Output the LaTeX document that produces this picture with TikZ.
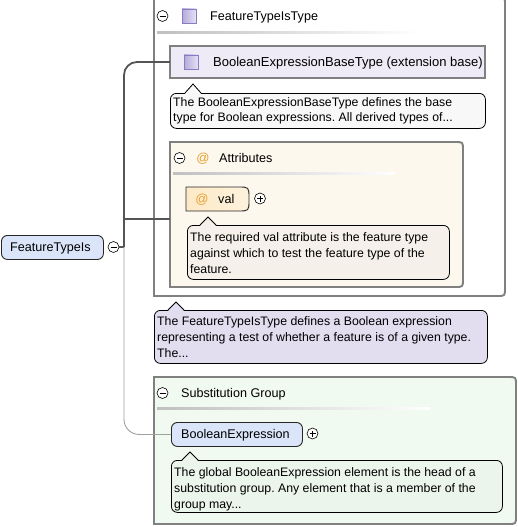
\documentclass[tikz,border=0pt]{standalone}
\usepackage{fontspec}
\setmainfont{Liberation Sans}
\frenchspacing
\definecolor{boxgray}{HTML}{808080}
\definecolor{conndark}{HTML}{555555}
\definecolor{connthin}{HTML}{A0A0A0}
\definecolor{basefill}{HTML}{EEEBF6}
\definecolor{sqdark}{HTML}{B4AADB}
\definecolor{sqlight}{HTML}{E6E1F4}
\definecolor{sqborder}{HTML}{8A7CC0}
\definecolor{docgray}{HTML}{F8F8F8}
\definecolor{attrfill}{HTML}{FDF8EE}
\definecolor{valfill}{HTML}{FDE9C6}
\definecolor{valdocfill}{HTML}{F5F1EA}
\definecolor{elemfill}{HTML}{DAE5F9}
\definecolor{ftdocfill}{HTML}{E2DEF0}
\definecolor{substfill}{HTML}{F1FAF0}
\definecolor{substdocfill}{HTML}{ECF5EC}
\definecolor{atorange}{HTML}{E8A030}
\newcommand\rrbox[6]{\draw[#1] (#2,#3) -- ({#4-#6},#3) .. controls (#4,#3) .. (#4,{#3+#6}) -- (#4,{#5-#6}) .. controls (#4,#5) .. ({#4-#6},#5) -- (#2,#5) -- cycle;}
\newcommand\docptr[5]{% fill, left, apex x, apex y, top
  \fill[#1] ({#3-8},{#5+0.8}) -- (#3,#4) -- ({#3+8},{#5+0.8}) -- cycle;
  \draw[line width=0.8pt] ({#3-8},#5) -- (#3,#4) -- ({#3+8},#5);}
\begin{document}
\begin{tikzpicture}[x=1pt,y=-1pt,
  lbl/.style={anchor=base west, inner sep=0pt, font=\fontsize{12.6}{14}\selectfont},
  atlbl/.style={anchor=base, inner sep=0pt, text=atorange, font=\fontsize{13}{14}\selectfont},
  doctext/.style={anchor=north west, inner sep=0pt, align=left, font=\fontsize{12.3}{15.8}\selectfont},
  docbox/.style={draw=black, line width=0.8pt, rounded corners=6pt},
  graybox/.style={draw=boxgray, line width=1.9pt},
  elem/.style={draw=black!85, line width=0.9pt, rounded corners=6pt, fill=elemfill},
  btn/.style={circle, draw, line width=0.6pt, minimum size=11pt, inner sep=0pt, fill=white},
  minusbtn/.style={btn, path picture={\draw[line width=0.6pt] ([xshift=2.5pt]path picture bounding box.west) -- ([xshift=-2.5pt]path picture bounding box.east);}},
  plusbtn/.style={btn, path picture={\draw[line width=0.6pt] ([xshift=2.5pt]path picture bounding box.west) -- ([xshift=-2.5pt]path picture bounding box.east) ([yshift=2.5pt]path picture bounding box.south) -- ([yshift=-2.5pt]path picture bounding box.north);}},
  typesq/.style={draw=sqborder, line width=0.8pt, left color=sqdark, right color=sqlight},
  sep/.style={left color=black!25, middle color=black!55, right color=white},
  thickconn/.style={draw=conndark, line width=1.8pt},
  thinconn/.style={draw=connthin, line width=0.9pt}
]
\useasboundingbox (0,0) rectangle (518,527);

% ---------- FeatureTypeIsType complex type box ----------
\rrbox{graybox, fill=white}{154}{-3}{505}{296}{8}
\node[minusbtn] (ftmin) at (162.5,16) {};
\draw[typesq] (182,9) rectangle (196,23);
\node[lbl] (fttitle) at (210,20.5) {FeatureTypeIsType};
\shade[sep] (157,32) rectangle (420,34);

% base type box
\draw[graybox, fill=basefill] (170,46) rectangle (485,78);
\coordinate (baseW) at (170,62);
\draw[typesq] (184,55) rectangle (198,69);
\node[lbl, font=\fontsize{13}{14}\selectfont] (basetxt) at (213,66.5) {BooleanExpressionBaseType (extension base)};

% base doc bubble
\node[docbox, fill=docgray, minimum width=315pt, minimum height=35pt, anchor=north west] (basedoc) at (170,93) {};
\docptr{docgray}{170}{193}{84}{93}
\node[doctext] (basedoctxt) at (173,97) {The BooleanExpressionBaseType defines the base\\type for Boolean expressions. All derived types of...};

% ---------- Attributes box ----------
\rrbox{graybox, fill=attrfill}{170}{142}{463}{287}{8}
\coordinate (attrW) at (170,219);
\node[minusbtn] (attrmin) at (179.5,158) {};
\node[atlbl] (attrat) at (203,162.5) {@};
\node[lbl] (attrtitle) at (219,162.5) {Attributes};
\shade[sep] (173,172) rectangle (395,174);

% val attribute
\rrbox{draw=black!85, line width=0.9pt, left color=valfill, right color=valfill!60!white}{186}{187}{249}{211}{11}
\node[atlbl] (valat) at (202,203.5) {@};
\node[lbl] (valtxt) at (218,203.5) {val};
\node[plusbtn] (valplus) at (260,198.5) {};

% val doc bubble
\node[docbox, fill=valdocfill, minimum width=262pt, minimum height=54pt, anchor=north west] (valdoc) at (187,225) {};
\docptr{valdocfill}{187}{208}{217}{225}
\node[doctext] (valdoctxt) at (190,232.5) {The required val attribute is the feature type\\against which to test the feature type of the\\feature.};

% ---------- FeatureTypeIs element ----------
\node[elem, minimum width=102pt, minimum height=24pt, anchor=north west] (ftel) at (1,235) {};
\node[lbl] (ftellbl) at (10,251.5) {FeatureTypeIs};
\node[minusbtn] (ftelmin) at (113.5,247) {};

% connectors
\coordinate (trunk) at (124,247);
\draw[thickconn] (ftelmin.east) -- (trunk);
\draw[thickconn, rounded corners=13pt] (trunk) |- (baseW);
\draw[thickconn] (trunk |- attrW) -- (attrW);

% ---------- FeatureTypeIsType doc ----------
\node[docbox, fill=ftdocfill, minimum width=333pt, minimum height=53pt, anchor=north west] (ftdoc) at (154,310) {};
\docptr{ftdocfill}{154}{176}{302}{310}
\node[doctext] (ftdoctxt) at (157,316.5) {The FeatureTypeIsType defines a Boolean expression\\representing a test of whether a feature is of a given type.\\The...};

% ---------- Substitution Group ----------
\rrbox{graybox, fill=substfill}{154}{377}{516}{524}{8}
\node[minusbtn] (submin) at (162.5,393) {};
\node[lbl] (subtitle) at (181,397.5) {Substitution Group};
\shade[sep] (157,407) rectangle (430,409);

\node[elem, minimum width=131pt, minimum height=24pt, anchor=north west] (boolexp) at (171,422) {};
\node[lbl] (boolexplbl) at (181,438.5) {BooleanExpression};
\node[plusbtn] (boolplus) at (312.5,433.5) {};

\draw[thinconn, rounded corners=15pt] (trunk) |- (boolexp.west);

\node[docbox, fill=substdocfill, minimum width=331pt, minimum height=52pt, anchor=north west] (subdoc) at (171,460) {};
\docptr{substdocfill}{171}{190}{452}{460}
\node[doctext] (subdoctxt) at (174,467.5) {The global BooleanExpression element is the head of a\\substitution group. Any element that is a member of the\\group may...};
\end{tikzpicture}
\end{document}
